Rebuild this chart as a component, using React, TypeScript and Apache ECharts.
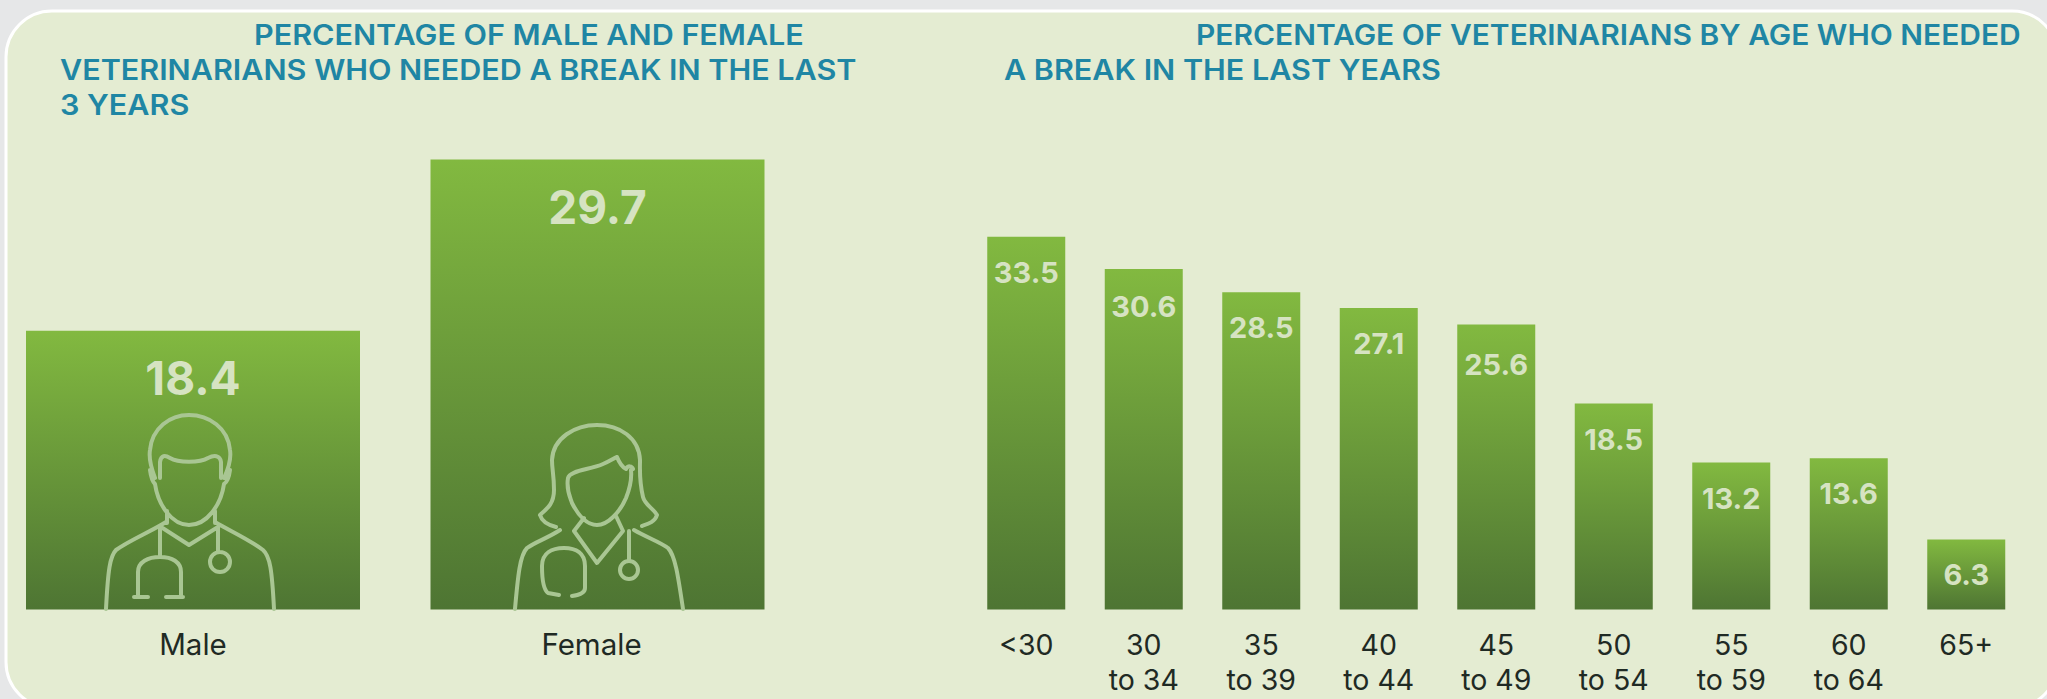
import React, { useEffect, useRef } from "react";
import * as echarts from "echarts";

const genderCategories = ["Male", "Female"];
const genderValues = [18.4, 29.7];
const ageCategories = ["<30", "30\nto 34", "35\nto 39", "40\nto 44", "45\nto 49", "50\nto 54", "55\nto 59", "60\nto 64", "65+"];
const ageValues = [33.5, 30.6, 28.5, 27.1, 25.6, 18.5, 13.2, 13.6, 6.3];
const titleLines = [
  { text: "PERCENTAGE OF MALE AND FEMALE", x: 254, y: 35, sx: 1.09 },
  { text: "VETERINARIANS WHO NEEDED A BREAK IN THE LAST", x: 60, y: 70, sx: 1.09 },
  { text: "3 YEARS", x: 60, y: 105, sx: 1.09 },
  { text: "PERCENTAGE OF VETERINARIANS BY AGE WHO NEEDED", x: 1196, y: 35, sx: 1.07 },
  { text: "A BREAK IN THE LAST YEARS", x: 1004, y: 70, sx: 1.09 },
];

const FONT = "Inter";
const TITLE = "#1f86a4";
const LABEL = "#d6e3c2";
const ICON = "#a9c693";
const TICK = "#1f2a24";

const malePath =
  "M155 478C150 465 149 456 150 450C152 428 170 415 189 415C209 415 228 428 230 450C231 456 230 465 224 478" +
  "M160 478L160 462C161 455 165 455 170 458C178 463 200 463 208 458C214 455 220 455 221 462L221 478" +
  "M150 470C151 478 153 482 155 484C158 505 172 525 189 525C207 525 221 505 224 484C227 482 229 478 230 470" +
  "M167 511L167 523M215 511L215 523" +
  "M166 522C150 532 130 540 116 550C110 556 108 570 106 609M215 522C232 532 250 540 263 550C270 556 272 570 274 609" +
  "M161 527L189 545L218 527M160 527L160 557" +
  "M138 597L138 572C138 562 148 557 160 557C172 557 181 562 181 572L181 597M134 597L148 597M166 597L183 597" +
  "M218 527L218 552M230 562A10 10 0 1 1 210 562A10 10 0 1 1 230 562Z";

const femalePath =
  "M540 515C548 508 554 503 554 490C554 475 552 470 552 460C553 438 575 425 597 425C620 425 639 438 640 460C640 470 639 480 643 497C645 505 653 508 657 515C655 522 648 524 642 526" +
  "M540 515C542 522 548 525 556 527" +
  "M568 478C566 490 570 497 572 503C578 515 587 525 597 525C608 525 620 512 626 498C630 488 632 480 631 470" +
  "M568 478C570 470 590 470 603 464C610 461 614 458 617 457C619 462 622 467 626 469C628 465 632 466 633 469" +
  "M584 518L574 531L597 563L623 531L616 516" +
  "M560 530C548 538 535 542 527 548C520 555 518 575 515 609M634 530C648 538 660 542 668 548C675 555 678 575 683 609" +
  "M559 595L548 593C544 590 542 580 542 566C542 553 552 548 564 548C576 548 585 553 585 566L585 588C585 592 580 595 572 596" +
  "M629 531L629 561M638 570A9 9 0 1 1 620 570A9 9 0 1 1 638 570Z";

echarts.graphic.registerShape("maleDoctor", echarts.graphic.extendPath(malePath, {}));
echarts.graphic.registerShape("femaleDoctor", echarts.graphic.extendPath(femalePath, {}));

const barGradient = () =>
  new echarts.graphic.LinearGradient(0, 0, 0, 1, [
    { offset: 0, color: "#82b940" },
    { offset: 1, color: "#4e7533" },
  ]);

export default function App() {
  const ref = useRef<HTMLDivElement>(null);
  useEffect(() => {
    document.body.style.margin = "0";
    const chart = echarts.init(ref.current!, undefined, { renderer: "svg" });
    const iconStyle = { fill: "none", stroke: ICON, lineWidth: 4, lineJoin: "round", lineCap: "round" };
    const nudge: Record<number, number> = { 1: 2, 4: 4 };
    chart.setOption({
      animation: false,
      backgroundColor: "#e6e7e8",
      graphic: [
        { type: "rect", z: -10, shape: { x: 6, y: 11, width: 2052, height: 697, r: 46 }, style: { fill: "#e4ecd2", stroke: "#ffffff", lineWidth: 3 } },
        { type: "maleDoctor", z: 10, style: iconStyle },
        { type: "femaleDoctor", z: 10, style: iconStyle },
        ...titleLines.map((l) => ({
          type: "text",
          z: 10,
          x: l.x,
          y: l.y,
          scaleX: l.sx,
          style: { text: l.text, fill: TITLE, font: `600 28px ${FONT}`, verticalAlign: "middle", align: "left" },
        })),
      ],
      tooltip: { show: false },
      grid: [
        { left: -9.25, top: 155, width: 809, height: 454.5, outerBoundsMode: "none" },
        { left: 967.5, top: 220, width: 1057.5, height: 389.5, outerBoundsMode: "none" },
      ],
      xAxis: [
        {
          type: "category", gridIndex: 0, data: genderCategories,
          axisLine: { show: false }, axisTick: { show: false },
          axisLabel: {
            margin: 17, fontFamily: FONT, fontSize: 29.5, color: TICK, lineHeight: 35,
            formatter: (v: string) => (v === "Female" ? `{f|${v}}` : v),
            rich: { f: { padding: [0, 12, 0, 0], fontFamily: FONT, fontSize: 29.5, color: TICK, lineHeight: 35 } },
          },
        },
        {
          type: "category", gridIndex: 1, data: ageCategories,
          axisLine: { show: false }, axisTick: { show: false },
          axisLabel: { margin: 17, fontFamily: FONT, fontSize: 28.5, color: TICK, lineHeight: 35, interval: 0 },
        },
      ],
      yAxis: [
        { type: "value", gridIndex: 0, min: 0, max: 30, show: false },
        { type: "value", gridIndex: 1, min: 0, max: 35, show: false },
      ],
      series: [
        {
          type: "bar", xAxisIndex: 0, yAxisIndex: 0, data: genderValues, barWidth: 334,
          itemStyle: { color: barGradient() },
          label: { show: true, position: "insideTop", distance: 24, formatter: (p: any) => p.value.toFixed(1), color: LABEL, fontFamily: FONT, fontSize: 46, fontWeight: 700 },
        },
        {
          type: "bar", xAxisIndex: 1, yAxisIndex: 1,
          data: ageValues.map((value, i) => (nudge[i] ? { value, label: { offset: [0, nudge[i]] } } : value)),
          barWidth: 78,
          itemStyle: { color: barGradient() },
          label: { show: true, position: "insideTop", distance: 21, formatter: (p: any) => p.value.toFixed(1), color: LABEL, fontFamily: FONT, fontSize: 29, fontWeight: 700 },
        },
      ],
    });
    return () => chart.dispose();
  }, []);
  return <div ref={ref} style={{ width: 2047, height: 699 }} />;
}
